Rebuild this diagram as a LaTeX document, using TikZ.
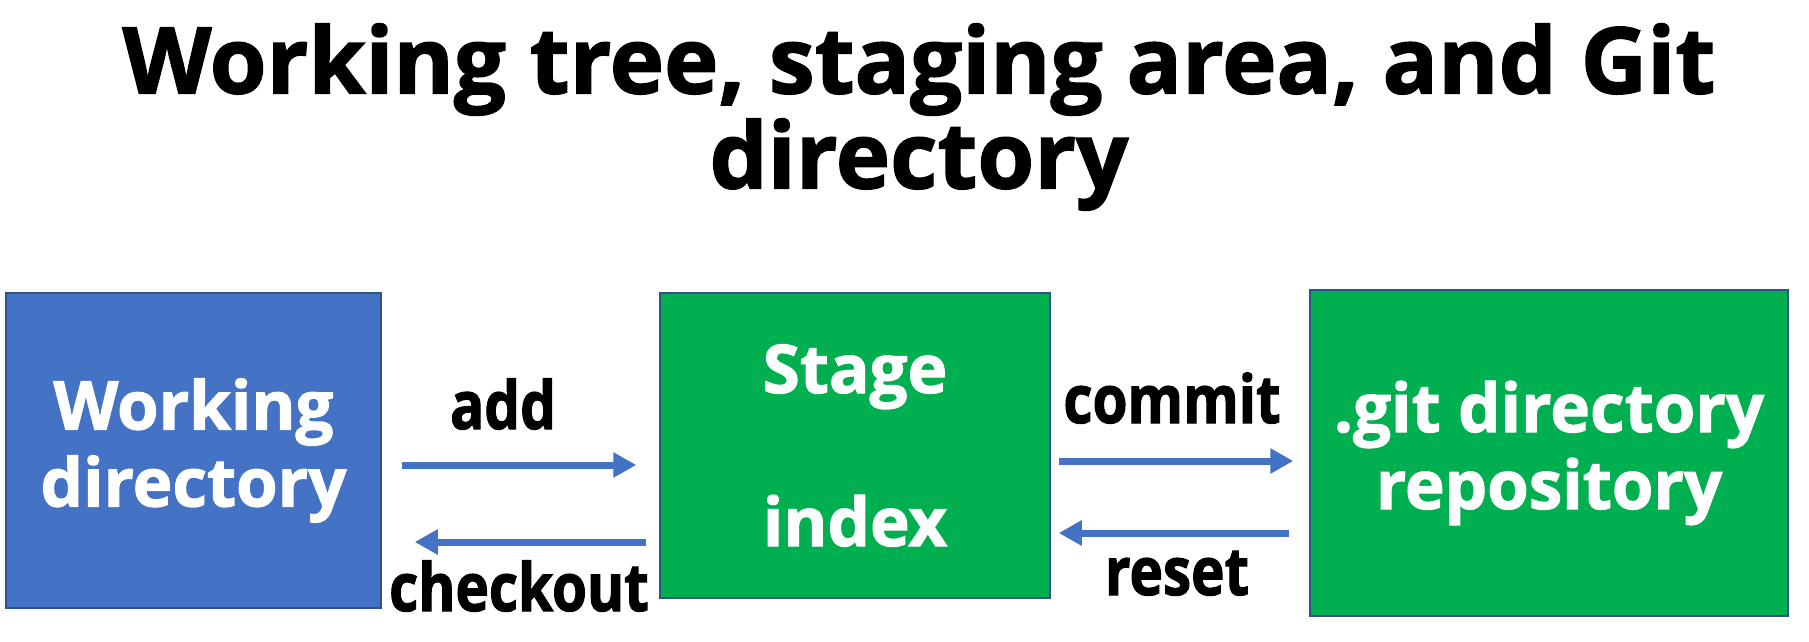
\documentclass[tikz,border=0pt]{standalone}
\usepackage{fontspec}
\setmainfont{Open Sans}[BoldFeatures={FakeBold=1.6}]
\newfontfamily\cmdfont{Open Sans}[FakeStretch=0.85, BoldFeatures={FakeBold=1.6}]
\usetikzlibrary{arrows.meta,positioning}
\definecolor{boxblue}{HTML}{4472C4}
\definecolor{boxedge}{HTML}{2F528F}
\definecolor{boxgreen}{HTML}{00B050}

\begin{document}
\begin{tikzpicture}[x=0.5pt, y=-0.5pt,
    area/.style={draw=boxedge, line width=0.75pt, text=white, align=center, inner sep=0pt,
        font=\bfseries\fontsize{33.6}{38.5}\selectfont},
    flow/.style={boxblue, line width=3.5pt, ->, >={Triangle[length=11.5pt, width=12pt]}},
    cmd/.style={anchor=base, font=\cmdfont\bfseries\fontsize{33.3}{38}\selectfont}]

\useasboundingbox (0,0) rectangle (1809,642);

% Title
\node[align=center, font=\bfseries\fontsize{46}{47.5}\selectfont] (title) at (919,117)
        {Working tree, staging area, and Git\\directory};

% Areas
\node[area, fill=boxblue, minimum width=187.5pt, minimum height=157.5pt] (wd) at (193.5,450.5)
        {Working\\directory};
\node[area, fill=boxgreen, minimum width=195pt, minimum height=152.5pt] (stage) at (855,445.5)
        {Stage\\[38pt]index};
\node[area, fill=boxgreen, minimum width=239pt, minimum height=163pt] (repo) at (1549,453)
        {.git directory\\repository};

% Rows of the arrows
\coordinate (addrow)    at (0,465);
\coordinate (checkrow)  at (0,542);
\coordinate (commitrow) at (0,461);
\coordinate (resetrow)  at (0,533);

% Connections
\draw[flow] ([xshift=10pt]wd.east |- addrow)        -- ([xshift=-11.5pt]stage.west |- addrow);
\draw[flow] ([xshift=-6.5pt]stage.west |- checkrow) -- ([xshift=16.5pt]wd.east |- checkrow);
\draw[flow] ([xshift=4pt]stage.east |- commitrow)   -- ([xshift=-8pt]repo.west |- commitrow);
\draw[flow] ([xshift=-10pt]repo.west |- resetrow)   -- ([xshift=4pt]stage.east |- resetrow);

% Commands
\node[cmd] (add)      at (503,429)  {add};
\node[cmd] (checkout) at (519,611)  {checkout};
\node[cmd] (commit)   at (1172,423) {commit};
\node[cmd] (reset)    at (1177,595) {reset};

\end{tikzpicture}
\end{document}
